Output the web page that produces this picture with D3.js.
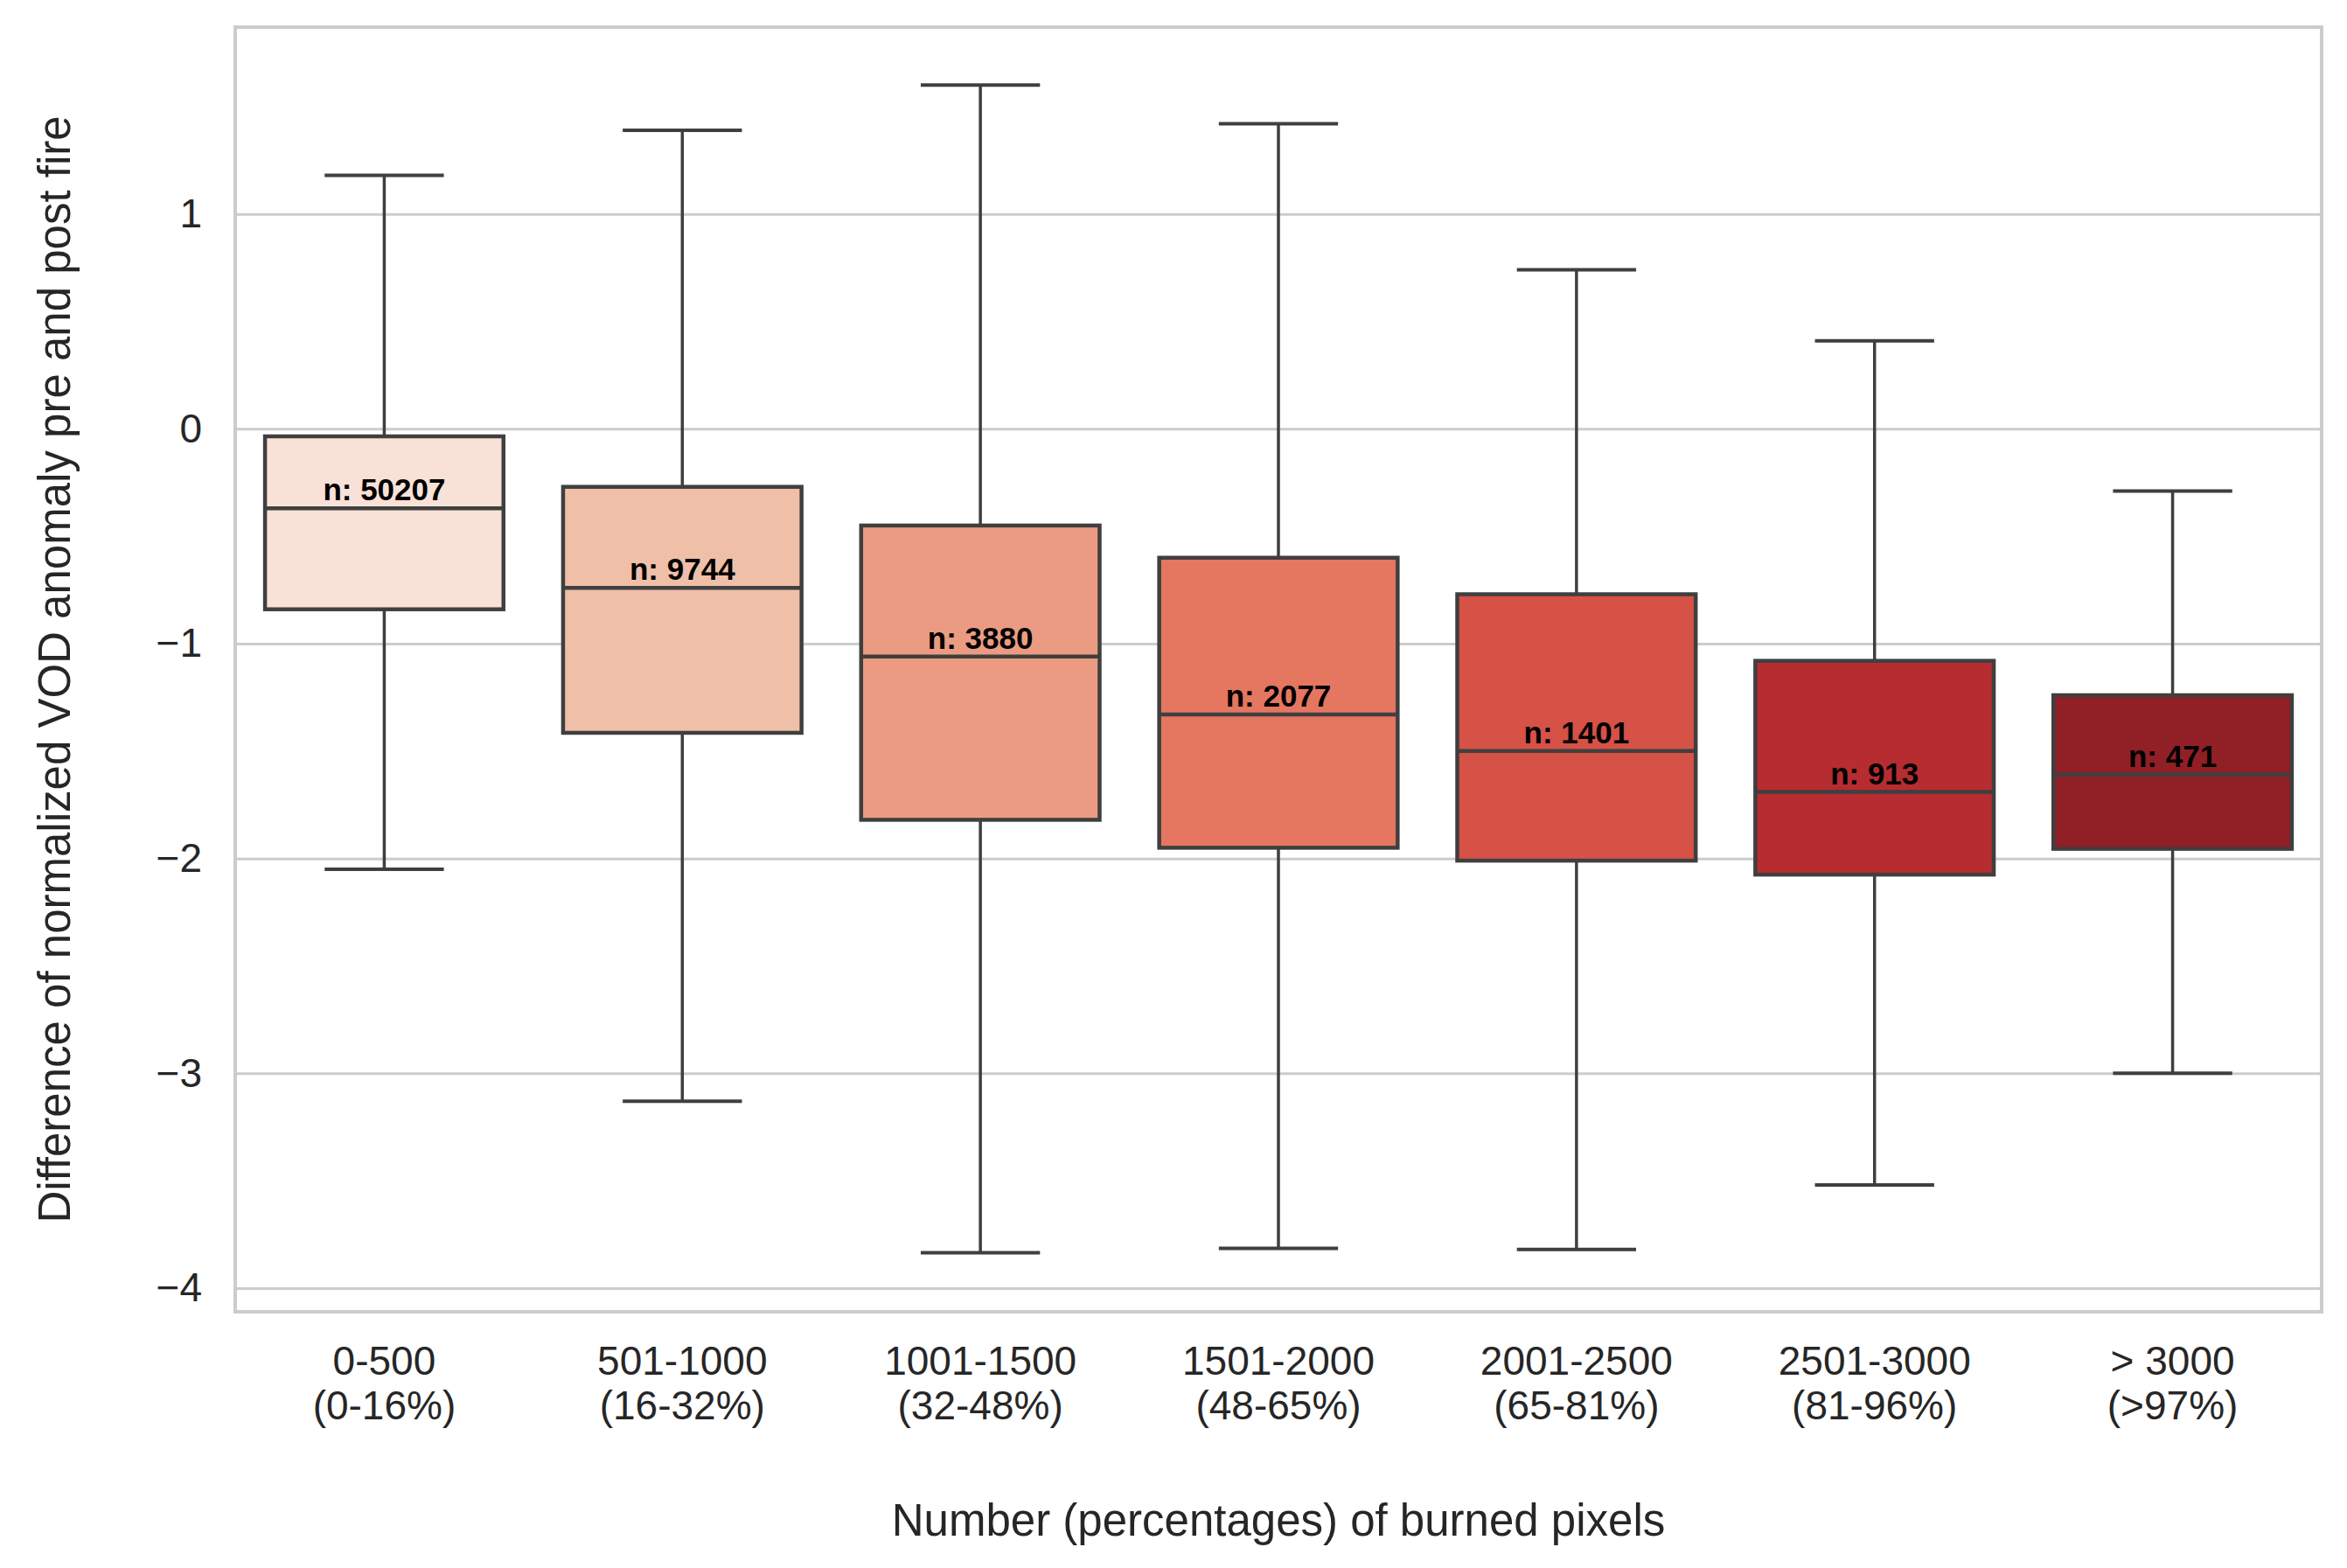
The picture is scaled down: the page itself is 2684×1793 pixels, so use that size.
<!DOCTYPE html>
<html>
<head>
<meta charset="utf-8">
<script src="https://cdn.jsdelivr.net/npm/d3@7"></script>
<style>
  body { margin: 0; background: #fff; }
  svg { display: block; font-family: "Liberation Sans", Arial, sans-serif; }
</style>
</head>
<body>
<svg id="chart" width="2684" height="1793"></svg>
<script>
// burned pixel classes
var categories = ["0-500", "501-1000", "1001-1500", "1501-2000", "2001-2500", "2501-3000", "> 3000"];
var percentLabels = ["(0-16%)", "(16-32%)", "(32-48%)", "(48-65%)", "(65-81%)", "(81-96%)", "(>97%)"];

// box statistics
var whiskerHigh = [1.18, 1.39, 1.60, 1.42, 0.74, 0.41, -0.29];
var q3 = [-0.035, -0.27, -0.45, -0.60, -0.77, -1.08, -1.24];
var medians = [-0.37, -0.74, -1.06, -1.33, -1.50, -1.69, -1.61];
var q1 = [-0.84, -1.415, -1.82, -1.95, -2.01, -2.075, -1.955];
var whiskerLow = [-2.05, -3.13, -3.835, -3.815, -3.82, -3.52, -3.00];
var counts = [50207, 9744, 3880, 2077, 1401, 913, 471];

var yTicks = [-4, -3, -2, -1, 0, 1];
var boxColors = ["#f8e1d6", "#f0bfa8", "#eb9b82", "#e57660", "#d65146", "#b62c31", "#911f26"];

var svg = d3.select("#chart"),
	margin = {top: 31, right: 29, bottom: 293, left: 269},
	width = +svg.attr("width") - margin.left - margin.right,
	height = +svg.attr("height") - margin.top - margin.bottom;

var x = d3.scaleBand().domain(categories).range([0, width]).paddingInner(0).paddingOuter(0);
var y = d3.scaleLinear().domain([-4.11, 1.87]).range([height, 0]);

var g = svg.append("g")
	.attr("transform", "translate(" + margin.left + "," + margin.top + ")");

var data = categories.map(function(c, i) {
	return {cat: c, pct: percentLabels[i], hi: whiskerHigh[i], q3: q3[i], med: medians[i],
		q1: q1[i], lo: whiskerLow[i], n: counts[i], color: boxColors[i]};
});

// grid + y ticks
var yAxis = g.append("g")
	.attr("class", "axis axis--y")
	.call(d3.axisLeft(y).tickValues(yTicks).tickSize(-width).tickPadding(38)
		.tickFormat(function(d) { return d < 0 ? "\u2212" + Math.abs(d) : d; }));
yAxis.select(".domain").remove();
yAxis.selectAll("line").attr("stroke", "#cccccc").attr("stroke-width", 3);
yAxis.selectAll("text").attr("font-size", 46).attr("fill", "#262626")
	.attr("font-family", "Liberation Sans, Arial, sans-serif");

// x ticks, two lines each
var xAxis = g.append("g")
	.attr("class", "axis axis--x")
	.attr("transform", "translate(0," + height + ")")
	.call(d3.axisBottom(x).tickSize(0).tickFormat(""));
xAxis.select(".domain").remove();
xAxis.selectAll(".tick").each(function(d, i) {
	var t = d3.select(this).append("text")
		.attr("fill", "#262626")
		.attr("font-size", 46)
		.attr("text-anchor", "middle")
		.attr("font-family", "Liberation Sans, Arial, sans-serif");
	t.append("tspan").attr("x", 0).attr("y", 72).text(d);
	t.append("tspan").attr("x", 0).attr("y", 123).text(percentLabels[i]);
});

// frame
g.append("rect")
	.attr("x", 0).attr("y", 0)
	.attr("width", width).attr("height", height)
	.attr("fill", "none")
	.attr("stroke", "#cccccc")
	.attr("stroke-width", 4);

var boxW = x.bandwidth() * 0.8,
	capW = boxW * 0.5,
	lineCol = "#3f3f3f";

var box = g.selectAll(".box")
	.data(data)
	.enter().append("g")
	.attr("class", "box")
	.attr("transform", function(d) { return "translate(" + (x(d.cat) + x.bandwidth() / 2) + ",0)"; });

// whiskers
box.append("line")
	.attr("x1", 0).attr("x2", 0)
	.attr("y1", function(d) { return y(d.hi); })
	.attr("y2", function(d) { return y(d.q3); })
	.attr("stroke", lineCol).attr("stroke-width", 3.5);
box.append("line")
	.attr("x1", 0).attr("x2", 0)
	.attr("y1", function(d) { return y(d.q1); })
	.attr("y2", function(d) { return y(d.lo); })
	.attr("stroke", lineCol).attr("stroke-width", 3.5);

// caps
box.append("line")
	.attr("x1", -capW / 2).attr("x2", capW / 2)
	.attr("y1", function(d) { return y(d.hi); })
	.attr("y2", function(d) { return y(d.hi); })
	.attr("stroke", lineCol).attr("stroke-width", 4);
box.append("line")
	.attr("x1", -capW / 2).attr("x2", capW / 2)
	.attr("y1", function(d) { return y(d.lo); })
	.attr("y2", function(d) { return y(d.lo); })
	.attr("stroke", lineCol).attr("stroke-width", 4);

// boxes
box.append("rect")
	.attr("x", -boxW / 2)
	.attr("width", boxW)
	.attr("y", function(d) { return y(d.q3); })
	.attr("height", function(d) { return y(d.q1) - y(d.q3); })
	.attr("fill", function(d) { return d.color; })
	.attr("stroke", lineCol)
	.attr("stroke-width", 4.5);

// medians
box.append("line")
	.attr("x1", -boxW / 2).attr("x2", boxW / 2)
	.attr("y1", function(d) { return y(d.med); })
	.attr("y2", function(d) { return y(d.med); })
	.attr("stroke", lineCol).attr("stroke-width", 4.5);

// counts
box.append("text")
	.attr("x", 0)
	.attr("y", function(d) { return y(d.med) - 9; })
	.attr("text-anchor", "middle")
	.attr("font-size", 35)
	.attr("font-weight", "bold")
	.attr("fill", "#000")
	.text(function(d) { return "n: " + d.n; });

// axis labels
svg.append("text")
	.attr("x", margin.left + width / 2)
	.attr("y", 1756)
	.attr("text-anchor", "middle")
	.attr("font-size", 51)
	.attr("fill", "#262626")
	.text("Number (percentages) of burned pixels");

svg.append("text")
	.attr("transform", "translate(80," + (margin.top + height / 2) + ") rotate(-90)")
	.attr("text-anchor", "middle")
	.attr("font-size", 51)
	.attr("fill", "#262626")
	.text("Difference of normalized VOD anomaly pre and post fire");
</script>
</body>
</html>
